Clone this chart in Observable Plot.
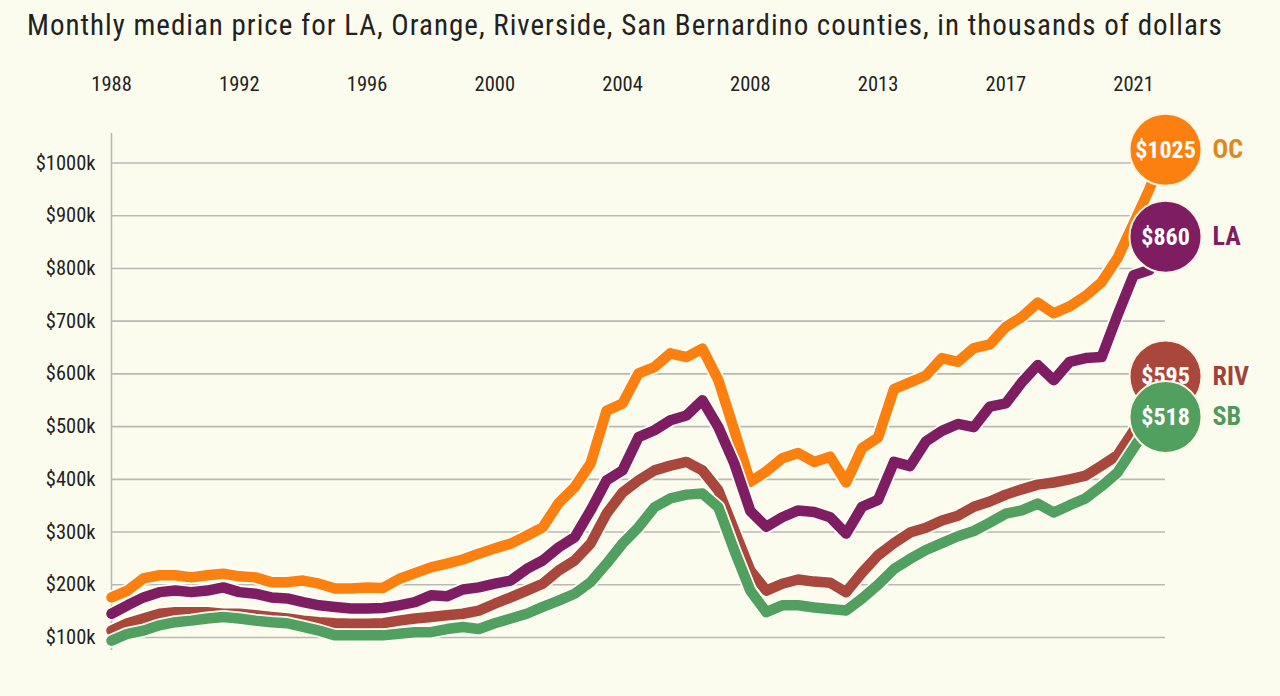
<!DOCTYPE html>
<html><head><meta charset="utf-8">
<script src="https://cdn.jsdelivr.net/npm/d3@7"></script>
<script src="https://cdn.jsdelivr.net/npm/@observablehq/plot@0.6"></script>
<style>
body{margin:0;background:#fcfcee;}
#title{font-family:'Roboto Condensed','Liberation Sans Narrow','DejaVu Sans Condensed',Roboto,sans-serif;font-size:29px;letter-spacing:1px;color:#222;height:50px;line-height:50px;padding-left:27px;white-space:nowrap;}
#chart svg{font-family:'Roboto Condensed','Liberation Sans Narrow','DejaVu Sans Condensed',Roboto,sans-serif;}
</style></head><body>
<div id="title">Monthly median price for LA, Orange, Riverside, San Bernardino counties, in thousands of dollars</div>
<div id="chart"></div>
<script>
// x positions are sample indices (months), tick labels as printed on the chart
const tickPos = [0,48,96,144,192,240,288,336,384];
const tickLabels = ["1988","1992","1996","2000","2004","2008","2013","2017","2021"];
const yTicks = [100,200,300,400,500,600,700,800,900,1000];
const counties = ["OC","LA","RIV","SB"];
const lineColors = ["#fb8010","#7f1d63","#a9473c","#52a060"];
const labelColors = ["#e2861a","#7f1d63","#a1423a","#4e9a5c"];
const step = 6; // months between samples

const oc = [176,189,212,218,218,214,218,221,216,214,205,205,208,202,193,193,195,194,211,222,233,240,248,259,269,278,293,309,355,385,430,530,544,601,613,639,632,648,588,493,395,415,440,450,433,443,394,459,479,571,584,597,630,623,649,656,689,708,735,715,728,748,774,820,885,951,1025];
const la = [145,161,176,186,189,186,189,195,186,183,176,174,167,161,158,155,155,156,161,167,180,178,191,195,202,208,230,246,271,290,341,398,417,480,493,512,521,550,499,430,340,310,328,341,338,328,297,348,361,433,425,472,492,505,499,538,544,584,617,588,623,630,632,712,787,797,860];
const riv = [113,127,136,145,148,148,148,145,145,142,139,136,132,129,127,126,126,127,132,136,139,142,145,151,164,176,189,202,227,246,278,335,375,398,417,426,433,417,379,303,227,189,202,210,206,204,186,223,256,279,299,308,322,331,348,358,371,381,390,394,400,407,426,446,492,544,595];
const sb = [94,107,113,123,129,132,136,139,136,132,129,127,120,113,104,104,104,104,107,110,110,116,120,116,127,136,145,158,170,183,205,240,278,309,347,364,371,373,347,265,189,148,161,161,157,154,151,174,200,230,249,266,279,292,302,318,335,341,354,337,351,364,387,413,459,505,518];

const series = [oc, la, riv, sb];
const labelMap = new Map(tickPos.map((p,i)=>[p,tickLabels[i]]));

const marks = [
  Plot.ruleY(yTicks, {stroke:"#b9b9b2", strokeWidth:1.6}),
  Plot.ruleX([0], {stroke:"#b9b9b2", strokeWidth:1.6}),
  Plot.axisX(tickPos, {anchor:"top", tickSize:0, tickPadding:43, tickFormat:d=>labelMap.get(d), fontSize:20.5, fill:"#222", label:null}),
  Plot.axisY(yTicks, {anchor:"left", tickSize:0, tickPadding:16, tickFormat:d=>`$${d}k`, fontSize:20.5, fill:"#222", label:null})
];
series.forEach((vals,k)=>{
  const rows = vals.map((v,i)=>({t:i*step, v}));
  marks.push(Plot.line(rows, {x:"t", y:"v", stroke:"#fffef6", strokeWidth:14, strokeLinejoin:"round", strokeLinecap:"round"}));
  marks.push(Plot.line(rows, {x:"t", y:"v", stroke:lineColors[k], strokeWidth:10.5, strokeLinejoin:"round", strokeLinecap:"round"}));
});
series.forEach((vals,k)=>{
  const end = [{t:(vals.length-1)*step, v:vals[vals.length-1], name:counties[k]}];
  marks.push(Plot.dot(end, {x:"t", y:"v", r:36, fill:lineColors[k], stroke:"#fbf6e4", strokeWidth:2}));
  marks.push(Plot.text(end, {x:"t", y:"v", text:d=>`$${d.v}`, fill:"white", fontWeight:"bold", fontSize:24}));
  marks.push(Plot.text(end, {x:"t", y:"v", text:"name", dx:47, textAnchor:"start", fill:labelColors[k], fontWeight:"bold", fontSize:26}));
});

const chart = Plot.plot({
  width:1280, height:646,
  marginLeft:111, marginRight:115, marginTop:83, marginBottom:46,
  x:{domain:[0,396]},
  y:{domain:[75.3,1056]},
  style:{background:"transparent", overflow:"visible"},
  marks
});
document.getElementById("chart").appendChild(chart);
</script>
</body></html>
